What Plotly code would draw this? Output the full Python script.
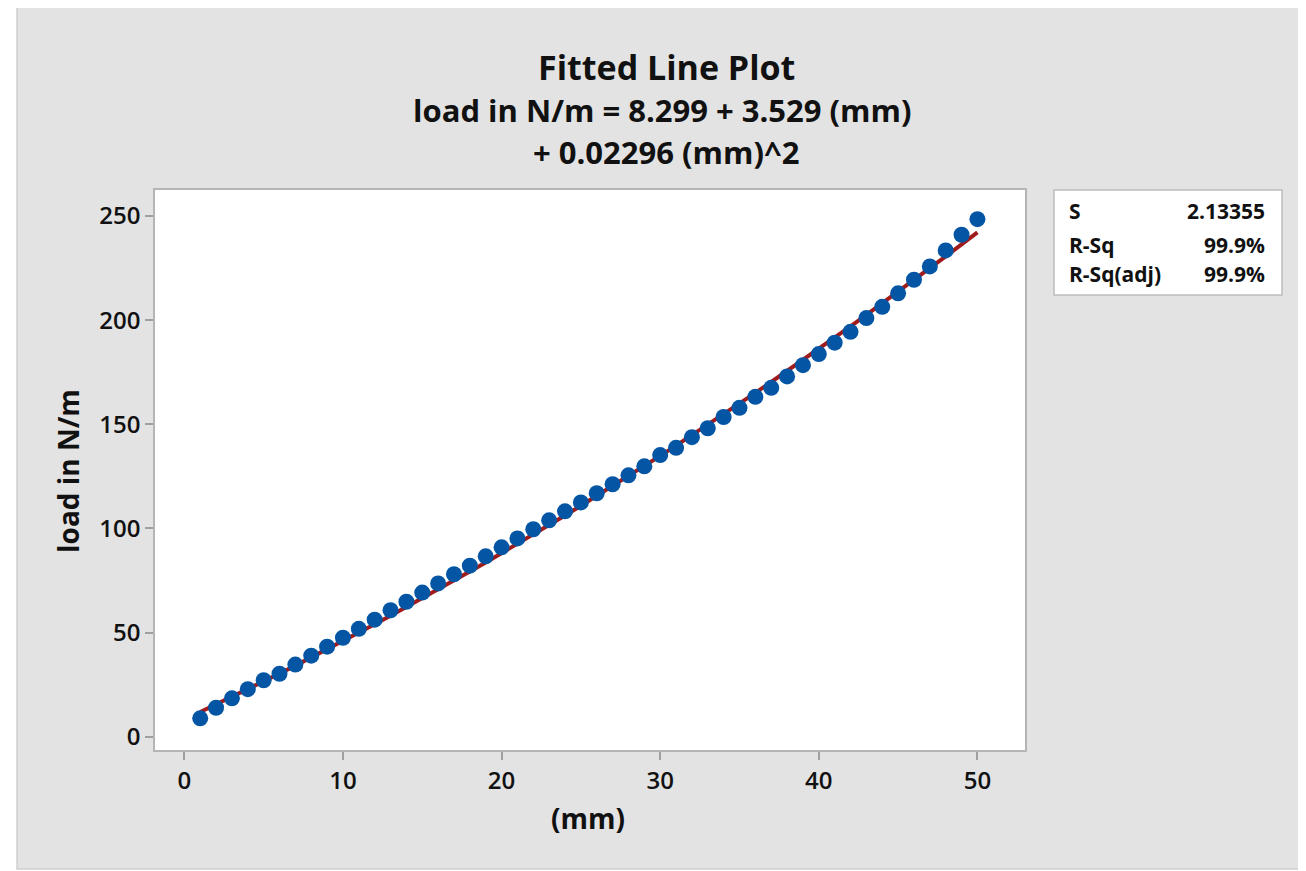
import plotly.graph_objects as go

# ---- data ----
mm = list(range(1, 51))
load = [8.8, 13.9, 18.4, 22.8, 27.1, 30.2, 34.6, 38.9, 43.2, 47.5,
        51.8, 56.2, 60.7, 64.8, 69.2, 73.6, 78.0, 82.1, 86.6, 90.9,
        95.2, 99.6, 103.9, 108.2, 112.5, 116.9, 121.2, 125.5, 129.8, 135.2,
        138.7, 143.8, 148.1, 153.5, 157.9, 163.2, 167.5, 173.0, 178.4, 183.7,
        189.2, 194.4, 201.0, 206.4, 212.9, 219.4, 225.8, 233.5, 241.0, 248.5]
coef_b0, coef_b1, coef_b2 = 8.299, 3.529, 0.02296
fit_x = mm
fit_y = [coef_b0 + coef_b1 * x + coef_b2 * x * x for x in fit_x]

x_ticks = [0, 10, 20, 30, 40, 50]
y_ticks = [0, 50, 100, 150, 200, 250]

stat_labels = ["S", "R-Sq", "R-Sq(adj)"]
stat_values = ["2.13355", "99.9%", "99.9%"]

title_text = "Fitted Line Plot"
eq_line1 = "load in N/m = 8.299 + 3.529 (mm)"
eq_line2 = "+ 0.02296 (mm)^2"
x_title = "(mm)"
y_title = "load in N/m"

# ---- figure ----
W, H = 1306, 871
OFF = 8  # page body margin
L, R, T, B = 155 - OFF, 1025 - OFF, 190 - OFF, 750 - OFF
pw, ph = R - L, B - T

def px(x):
    return (x - OFF - L) / pw

def py(y):
    return (B - (y - OFF)) / ph

FONT = "Open Sans"
TXT = "#111111"
fig = go.Figure()
fig.add_trace(go.Scatter(x=fit_x, y=fit_y, mode="lines",
                         line=dict(color="#a01c1c", width=4),
                         hoverinfo="skip", showlegend=False))
fig.add_trace(go.Scatter(x=mm, y=load, mode="markers",
                         marker=dict(color="#0455a4", size=16, line=dict(width=0)),
                         showlegend=False))

shapes = [
    dict(type="rect", xref="paper", yref="paper", x0=px(17), x1=px(1330), y0=py(869), y1=py(6),
         fillcolor="#e3e3e3", line=dict(color="#cfcfcf", width=1.5), layer="below"),
    dict(type="rect", xref="paper", yref="paper", x0=0, x1=1, y0=0, y1=1,
         fillcolor="white", line=dict(width=0), layer="below"),
    dict(type="rect", xref="paper", yref="paper", x0=px(1054), x1=px(1282), y0=py(295), y1=py(190),
         fillcolor="white", line=dict(color="#bdbdbd", width=1.5), layer="below"),
]

def ann(text, x, y, size, xanchor="center", angle=0):
    return dict(text="<b>" + text + "</b>", x=px(x), y=py(y), xref="paper", yref="paper",
                showarrow=False, xanchor=xanchor, yanchor="middle", textangle=angle,
                font=dict(family=FONT, size=size, color=TXT))

annotations = [
    ann(title_text, 666, 67, 34),
    ann(eq_line1, 662, 110, 31),
    ann(eq_line2, 666, 152, 31),
    ann(y_title, 68, 471, 28, angle=-90),
    ann(x_title, 588, 818, 28),
]
row_y = [211, 245, 274]
for lab, val, yy in zip(stat_labels, stat_values, row_y):
    annotations.append(ann(lab, 1067, yy, 21, xanchor="left"))
    annotations.append(ann(val, 1267, yy, 21, xanchor="right"))

axis_common = dict(ticks="outside", ticklen=8, tickcolor="#a0a0a0", tickwidth=1.5,
                   showgrid=False, zeroline=False, showline=True, mirror=True,
                   linecolor="#b5b5b5", linewidth=1.5,
                   tickfont=dict(family=FONT, size=24, color=TXT, weight=600))

fig.update_layout(
    width=W, height=H,
    margin=dict(l=L, r=W - R, t=T, b=H - B, pad=0),
    paper_bgcolor="white", plot_bgcolor="white",
    shapes=shapes, annotations=annotations,
    font=dict(family=FONT, color=TXT),
    xaxis=dict(range=[-1.85, 53.0], tickvals=x_ticks, **axis_common),
    yaxis=dict(range=[-6.4, 262.5], tickvals=y_ticks, **axis_common),
)

fig.write_html("out.html")
